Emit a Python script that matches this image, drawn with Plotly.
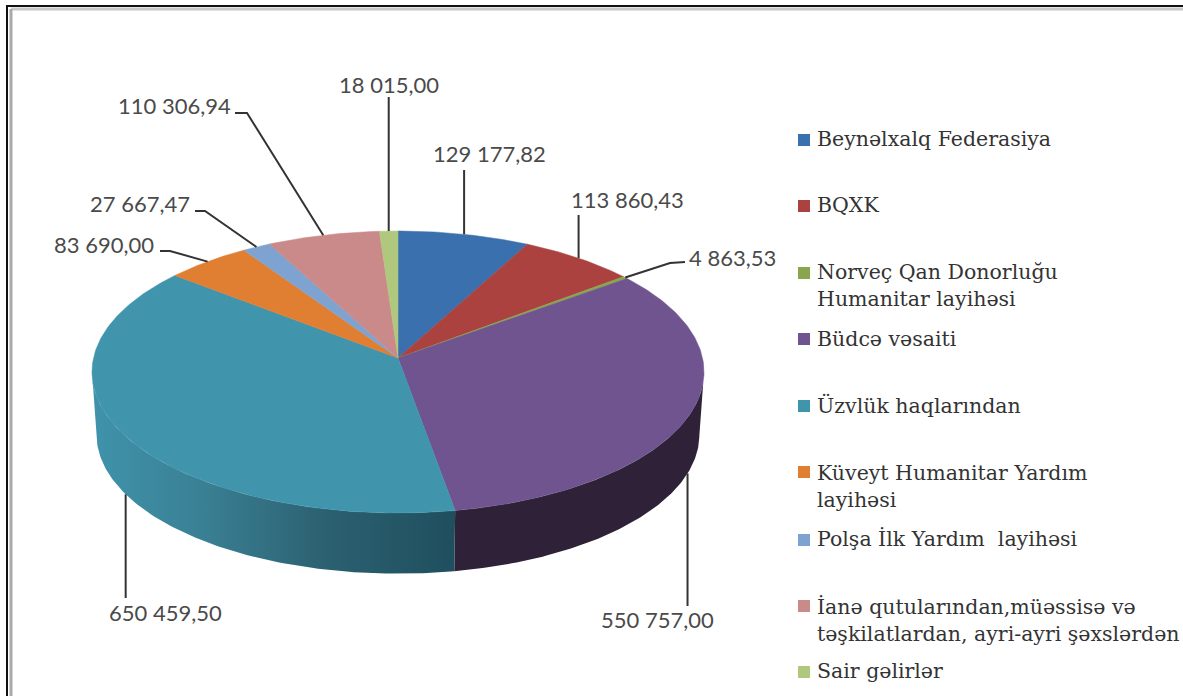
import numpy as np
import plotly.graph_objects as go

categories = ["Beynəlxalq Federasiya", "BQXK", "Norveç Qan Donorluğu<br>Humanitar layihəsi", "Büdcə vəsaiti",
              "Üzvlük haqlarından", "Küveyt Humanitar Yardım<br>layihəsi", "Polşa İlk Yardım  layihəsi",
              "İanə qutularından,müəssisə və<br>təşkilatlardan, ayri-ayri şəxslərdən", "Sair gəlirlər"]
values = [129177.82, 113860.43, 4863.53, 550757.00, 650459.50, 83690.00, 27667.47, 110306.94, 18015.00]
value_labels = ["129 177,82", "113 860,43", "4 863,53", "550 757,00", "650 459,50",
                "83 690,00", "27 667,47", "110 306,94", "18 015,00"]
colors = ["#3a70ad", "#ab423f", "#8aa64c", "#6f5490", "#4095ad", "#e07f32", "#7fa3d0", "#c98a89", "#b0c77e"]
side_dark = "#2f2238"
teal_grad = [[0, "#3f93ab"], [0.3, "#3a8094"], [0.65, "#2b6070"], [1, "#1f4f5e"]]

# layout (pixels)
W, H = 1183, 696
CX, AY, AY2 = 398, 358, 421
A, B, K = 139.6, 304.5, 0.0993
S2 = 0.985
label_xy = [(489, 153), (627, 199), (732, 257), (657, 619), (165, 612),
            (104, 244), (140, 203), (174, 105), (389, 84)]
elbows = [None, None, [(670, 263), (685, 262)], None, None,
          [(170, 251), (160, 251)], [(205, 211), (195, 211)], [(247, 113), (235, 113)], None]
leader_end = [(None, 170), (None, 215), None, (None, 606), (None, 598), None, None, None, (None, 97)]
legend_y = [140, 206, 273, 339, 406, 472, 540, 606, 672]
legend_text_y = [139, 205, 285, 339, 405, 486, 539, 620, 671]


def proj(th, ay=AY, s=1.0):
    d = 1 + K * np.cos(th)
    return CX + s * B * np.sin(th) / d, ay - s * A * np.cos(th) / d


total = sum(values)
edges = np.concatenate([[0], np.cumsum(values)]) / total * 2 * np.pi
fig = go.Figure()

# sides
tan_r, tan_l = np.arccos(-K), 2 * np.pi - np.arccos(-K)
for i, grad in [(3, None), (4, teal_grad)]:
    t = np.linspace(max(edges[i], tan_r), min(edges[i + 1], tan_l), 120)
    x1, y1 = proj(t)
    x2, y2 = proj(t[::-1], AY2, S2)
    kw = dict(fillcolor=side_dark) if grad is None else dict(
        fillgradient=dict(type="horizontal", colorscale=grad))
    fig.add_trace(go.Scatter(x=np.r_[x1, x2], y=np.r_[y1, y2], mode="lines", fill="toself",
                             line=dict(width=0), showlegend=False, hoverinfo="skip", **kw))

# top face
for i, v in enumerate(values):
    n = max(4, int((edges[i + 1] - edges[i]) * 80))
    t = np.linspace(edges[i], edges[i + 1], n)
    x, y = proj(t)
    fig.add_trace(go.Scatter(x=np.r_[CX, x, CX], y=np.r_[AY, y, AY], mode="lines", fill="toself",
                             fillcolor=colors[i], line=dict(width=0.5, color=colors[i]),
                             showlegend=False, hovertext=f"{categories[i]}: {value_labels[i]}", hoverinfo="text"))

# leader lines
mids = (edges[:-1] + edges[1:]) / 2
for i in range(len(values)):
    front = i in (3, 4)
    x0, y0 = proj(mids[i], AY2, S2) if front else proj(mids[i])
    if elbows[i]:
        pts = [(x0, y0)] + elbows[i]
    else:
        pts = [(x0, y0), (x0, leader_end[i][1])]
    fig.add_trace(go.Scatter(x=[p[0] for p in pts], y=[p[1] for p in pts], mode="lines",
                             line=dict(color="#333333", width=2), showlegend=False, hoverinfo="skip"))

# value labels
for (x, y), t in zip(label_xy, value_labels):
    fig.add_annotation(x=x, y=y, text=t, showarrow=False, xanchor="center", yanchor="middle",
                       font=dict(family="Lato", size=22, color="#4a4a4a"))

# legend
fig.add_trace(go.Scatter(x=[804] * len(colors), y=legend_y, mode="markers",
                         marker=dict(symbol="square", size=12, color=colors), showlegend=False, hoverinfo="skip"))
for y, t in zip(legend_text_y, categories):
    fig.add_annotation(x=815, y=y, text=t, showarrow=False, xanchor="left", yanchor="middle", align="left",
                       font=dict(family="DejaVu Serif", size=20.5, color="#333333"))

# frame
fig.add_shape(type="line", x0=11, y0=9, x1=1190, y1=9, line=dict(color="#c8c8c8", width=3))
fig.add_shape(type="line", x0=11, y0=9, x1=11, y1=696, line=dict(color="#aaaaaa", width=3))
fig.add_shape(type="rect", x0=7, y0=6, x1=1190, y1=710, line=dict(color="#111111", width=2))

fig.update_layout(width=W, height=H, margin=dict(l=0, r=0, t=0, b=0), autosize=False,
                  paper_bgcolor="white", plot_bgcolor="white", showlegend=False,
                  xaxis=dict(range=[0, W], visible=False, fixedrange=True),
                  yaxis=dict(range=[H, 0], visible=False, fixedrange=True))
fig.write_html("out.html", config=dict(displayModeBar=False),
               post_script="document.body.style.margin='0';document.body.style.overflow='hidden';")
